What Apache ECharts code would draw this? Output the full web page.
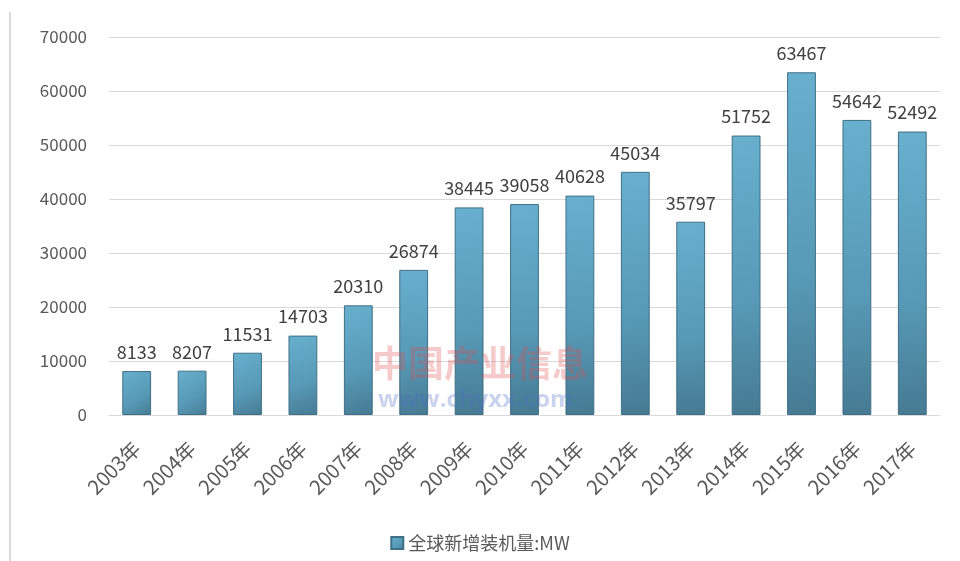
<!DOCTYPE html>
<html>
<head>
<meta charset="utf-8">
<script src="https://cdn.jsdelivr.net/npm/echarts@6/dist/echarts.min.js"></script>
<style>
  html, body { margin: 0; padding: 0; background: #fff; }
  #chart { width: 960px; height: 561px; }
</style>
</head>
<body>
<div id="chart"></div>
<script>
  const years = ['2003年', '2004年', '2005年', '2006年', '2007年', '2008年', '2009年', '2010年',
    '2011年', '2012年', '2013年', '2014年', '2015年', '2016年', '2017年'];
  const installed = [8133, 8207, 11531, 14703, 20310, 26874, 38445, 39058,
    40628, 45034, 35797, 51752, 63467, 54642, 52492];
  const seriesName = '全球新增装机量:MW';

  const font = '"Noto Sans CJK SC", "Open Sans", sans-serif';

  let option = {
    backgroundColor: '#fff',
    textStyle: { fontFamily: font },
    legend: {
      data: [seriesName],
      bottom: 4,
      left: 'center',
      itemWidth: 12,
      itemHeight: 12,
      itemGap: 4,
      icon: 'rect',
      textStyle: { color: '#595959', fontSize: 18, fontFamily: font }
    },
    grid: {
      left: 109,
      right: 20,
      top: 37,
      bottom: 146
    },
    xAxis: {
      type: 'category',
      data: years,
      axisLine: { lineStyle: { color: '#d9d9d9', width: 1 } },
      axisTick: { show: false },
      axisLabel: {
        rotate: 45,
        color: '#595959',
        fontSize: 20,
        margin: 30,
        fontFamily: font
      }
    },
    yAxis: {
      type: 'value',
      min: 0,
      max: 70000,
      interval: 10000,
      axisLine: { show: false },
      axisTick: { show: false },
      splitLine: { lineStyle: { color: '#d9d9d9', width: 1 } },
      axisLabel: {
        color: '#595959',
        fontSize: 17,
        margin: 22,
        fontFamily: font,
        formatter: v => String(v)
      }
    },
    series: [{
      name: seriesName,
      type: 'bar',
      data: installed,
      barWidth: '52%',
      itemStyle: {
        color: new echarts.graphic.LinearGradient(0, 0, 1, 1, [
          { offset: 0, color: '#68b0ce' },
          { offset: 0.6, color: '#5799b6' },
          { offset: 1, color: '#467a92' }
        ]),
        borderColor: '#3f6f86',
        borderWidth: 1
      },
      label: {
        show: true,
        position: 'top',
        distance: 10,
        color: '#404040',
        fontSize: 18,
        fontFamily: font
      }
    }],
    graphic: [
      {
        type: 'line',
        shape: { x1: 10, y1: 12, x2: 10, y2: 561 },
        style: { stroke: '#d9d9d9', lineWidth: 2 }
      },
      {
        type: 'text',
        left: 372,
        top: 345,
        z: 100,
        style: {
          text: '中国产业信息',
          fill: 'rgba(220, 80, 80, 0.3)',
          font: 'bold 36px "Noto Sans CJK SC", sans-serif'
        }
      },
      {
        type: 'text',
        left: 378,
        top: 388,
        z: 100,
        style: {
          text: 'www.chyxx.com',
          fill: 'rgba(80, 110, 200, 0.3)',
          font: 'bold 24px "Open Sans", sans-serif'
        }
      }
    ]
  };

  let myChart = echarts.init(document.getElementById('chart'));
  myChart.setOption(option);
</script>
</body>
</html>
